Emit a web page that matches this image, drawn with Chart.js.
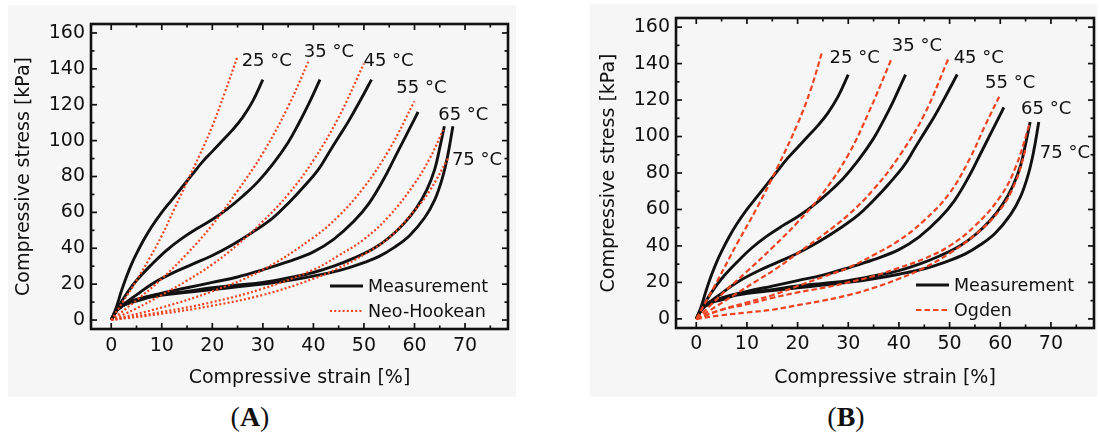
<!DOCTYPE html>
<html><head><meta charset="utf-8">
<script src="https://cdn.jsdelivr.net/npm/chart.js@4/dist/chart.umd.min.js"></script>
<style>
body{margin:0;background:#fff;width:1099px;height:434px;position:relative;overflow:hidden;font-family:"DejaVu Sans";}
.panel{position:absolute;background:#f6f6f6;}
.box{position:absolute;top:0;}
.lab{position:absolute;font-family:"Liberation Serif",serif;font-size:28px;color:#111;transform:translateX(-50%);line-height:32px;}
.lab b{font-weight:bold;}
</style></head><body>
<div class="panel" style="left:8px;top:5px;width:508px;height:392px"></div>
<div class="panel" style="left:590px;top:4px;width:507px;height:393px"></div>
<div class="box" style="left:0;width:520px;height:400px"><canvas id="cA" width="520" height="400"></canvas></div>
<div class="box" style="left:580px;width:519px;height:400px"><canvas id="cB" width="519" height="400"></canvas></div>
<div class="lab" style="left:250px;top:401px">(<b>A</b>)</div>
<div class="lab" style="left:846px;top:401px">(<b>B</b>)</div>
<script>
// ---- data (strain %, stress kPa) ----
const temps = ["25 °C","35 °C","45 °C","55 °C","65 °C","75 °C"];
const xTicks = [0,10,20,30,40,50,60,70];
const yTicks = [0,20,40,60,80,100,120,140,160];

const meas25 = [[0,0],[1,7],[2,16],[3,24],[4,31],[5,37],[6.5,45],[8,52],[10,60],[12,67],[14,74],[16,81],[18,88],[20,94],[22,100],[24,106],[26,113],[28,122],[30,134]];
const meas35 = [[0,0],[1,5],[2,10],[3,14.5],[5,22],[8,31],[11,39],[14,45.5],[17,51],[20,56],[23,62],[26,69],[29,77],[32,87],[35,99],[37,109],[39,120],[41.3,134]];
const meas45 = [[0,0],[1,5],[2,8],[3,10],[5,14],[8,20],[12,26],[16,31],[20,36],[24,42],[28,49],[32,57],[35,65],[38,74],[41,84],[43,93],[45,102],[47,111],[49,121],[51.5,134]];
const meas55 = [[0,0],[1,5],[2,7.5],[3,9],[5,11.5],[10,15],[15,18],[20,21],[25,24],[30,28],[35,32.5],[40,38],[44,45],[48,55],[51,65],[54,79],[56,90],[58,101],[60,112],[60.7,116]];
const meas65 = [[0,0],[1,5],[2,7.5],[3,9],[5,11],[8,13.5],[15,16],[20,18],[25,19.5],[30,21],[35,23.5],[40,26.5],[44,30],[48,34.5],[52,40],[55,46],[58,54],[60.5,63],[62.5,73],[64,84],[65,96],[65.9,108]];
const meas75 = [[0,0],[1,5],[2,7.5],[3,9],[5,10.5],[8,13],[15,15.5],[20,17],[25,18.5],[30,20],[35,22],[40,24.5],[45,27.5],[49,31],[53,35.5],[56,40.5],[59,47],[62,57],[64,67],[65.5,79],[66.6,92],[67.6,108]];

const nh25 = [[0,0],[2.5,11],[5,22],[7.5,34],[10,47],[12.5,62],[15,77],[17.5,92],[20,108],[22.5,127],[25,147]];
const nh35 = [[0,0],[5,11],[10,23],[15,37],[20,53],[25,72],[30,93],[35,119],[39,144]];
const nh45 = [[0,0],[5,6.5],[10,14],[15,22],[20,31],[25,42],[30,55],[35,70],[40,89],[45,113],[50,143]];
const nh55 = [[0,0],[10,7],[20,16],[30,28],[40,46],[45,58],[50,74],[55,95],[60,122]];
const nh65 = [[0,0],[10,4.5],[20,10],[30,17.5],[40,28],[45,36],[50,45],[55,58],[60,76],[63,90],[65.7,106]];
const nh75 = [[0,0],[10,3.5],[20,8],[30,14],[40,23],[45,29],[50,36.5],[55,46],[60,61],[63,72],[66.7,90.5]];

const og25 = [[0,0],[4,20],[8,41],[12,61],[16,83],[20,107],[22.5,125],[24.9,147]];
const og35 = [[0,0],[3,8],[6,16],[10,26],[15,39],[20,53],[25,69],[30,90],[34,113],[38.6,143]];
const og45 = [[0,0],[4,7],[8,14],[12,21],[16,28],[20,36],[25,46],[30,57],[35,71],[40,89],[45,112],[49.8,143]];
const og55 = [[0,0],[5,5],[10,9],[15,13],[20,18],[25,23],[30,28],[35,35],[40,43],[45,54],[50,69],[54,88],[57,106],[60,123]];
const og65 = [[0,0],[5,5],[10,8],[15,11.5],[20,14.5],[25,17],[30,20],[35,23.5],[40,28],[45,33],[50,40],[55,51],[60,67],[63,83],[65.8,107]];
const og75 = [[0,0],[5,2],[10,3.5],[15,5],[20,7.5],[25,10],[30,13],[35,17],[40,22],[45,28],[50,36],[55,46],[60,60],[63,75],[65.1,94]];

const labXA = [25.8,38.1,49.9,56.4,64.7,67.4];
const labYA = [144,149,144,129,114,89];
const labXB = [26.3,38.6,50.8,57,64.1,67.8];
const labYB = [143,149.5,143,129,115,91];

// ---- rendering ----
const RED = '#ee4422', INK = '#111111';
const FONT = '"DejaVu Sans", sans-serif';
const measAll = [meas25,meas35,meas45,meas55,meas65,meas75];

const framePlugin = {
  id: 'frame',
  afterDatasetsDraw(chart, args, o) {
    const {ctx, chartArea: a, scales: {x, y}} = chart;
    ctx.save();
    ctx.strokeStyle = INK; ctx.lineWidth = 1.7; ctx.setLineDash([]);
    const seg = (x1,y1,x2,y2) => { ctx.beginPath(); ctx.moveTo(x1,y1); ctx.lineTo(x2,y2); ctx.stroke(); };
    for (let v = 0; v <= 75; v += 5) {
      const p = x.getPixelForValue(v), L = v % 10 === 0 ? 6 : 3.5;
      seg(p, a.bottom, p, a.bottom - L); seg(p, a.top, p, a.top + L);
    }
    for (let v = 0; v <= 160; v += 10) {
      const p = y.getPixelForValue(v), L = v % 20 === 0 ? 6 : 3.5;
      seg(a.left, p, a.left + L, p); seg(a.right, p, a.right - L, p);
    }
    ctx.lineWidth = 2.6;
    ctx.strokeRect(a.left, a.top, a.right - a.left, a.bottom - a.top);
    // temperature labels
    ctx.fillStyle = INK; ctx.font = '18px ' + FONT; ctx.textAlign = 'left'; ctx.textBaseline = 'middle';
    temps.forEach((t, i) => ctx.fillText(t, x.getPixelForValue(o.labX[i]), y.getPixelForValue(o.labY[i])));
    // legend
    const sx = a.right - 178, tx = a.right - 140, r1 = a.bottom - 43, r2 = a.bottom - 18;
    ctx.lineWidth = 2.9; ctx.strokeStyle = INK; seg(sx, r1, sx + 33, r1);
    ctx.lineWidth = 2.2; ctx.strokeStyle = RED; ctx.setLineDash(o.dash); seg(sx, r2, sx + 33, r2);
    ctx.setLineDash([]);
    ctx.font = '17.5px ' + FONT;
    ctx.fillText('Measurement', tx, r1 + 1);
    ctx.fillText(o.fitName, tx, r2 + 1);
    ctx.restore();
  }
};

function makeChart(id, fits, dash, fitName, labX, labY, g) {
  const ds = [];
  fits.forEach(f => ds.push({data: f.map(p => ({x: p[0], y: p[1]})), borderColor: RED, borderWidth: 2.2, borderDash: dash, pointRadius: 0, showLine: true, tension: 0.4, fill: false}));
  measAll.forEach(m => ds.push({data: m.map(p => ({x: p[0], y: p[1]})), borderColor: INK, borderWidth: 2.9, pointRadius: 0, showLine: true, tension: 0.4, fill: false}));
  return new Chart(document.getElementById(id), {
    type: 'scatter',
    data: {datasets: ds},
    plugins: [framePlugin],
    options: {
      responsive: false, animation: false, events: [],
      layout: {padding: {top: g.top, right: g.right, left: 0, bottom: 0}},
      plugins: {legend: {display: false}, tooltip: {enabled: false}, frame: {labX, labY, dash, fitName}},
      scales: {
        x: {type: 'linear', min: -4, max: 78.5,
          afterBuildTicks: s => { s.ticks = xTicks.map(v => ({value: v})); },
          afterFit: s => { s.height = g.xh; },
          grid: {display: false, drawTicks: false}, border: {display: false},
          ticks: {padding: g.xpad, color: INK, font: {family: FONT, size: 19}},
          title: {display: true, text: 'Compressive strain [%]', color: INK, font: {family: FONT, size: 19}, padding: {top: 0, bottom: 11}}},
        y: {type: 'linear', min: -5, max: 165,
          afterBuildTicks: s => { s.ticks = yTicks.map(v => ({value: v})); },
          afterFit: s => { s.width = g.yw; },
          grid: {display: false, drawTicks: false}, border: {display: false},
          ticks: {padding: 6, color: INK, font: {family: FONT, size: 19}},
          title: {display: true, text: 'Compressive stress [kPa]', color: INK, font: {family: FONT, size: 19}, padding: {top: g.ytp, bottom: 0}}}
      }
    }
  });
}

makeChart('cA', [nh25,nh35,nh45,nh55,nh65,nh75], [2,2.2], 'Neo-Hookean', labXA, labYA, {top: 24, right: 12, xh: 71, yw: 91, xpad: 6, ytp: 13});
makeChart('cB', [og25,og35,og45,og55,og65,og75], [5.5,3], 'Ogden', labXB, labYB, {top: 18, right: 5, xh: 72, yw: 96, xpad: 5, ytp: 18});
</script>
</body></html>
